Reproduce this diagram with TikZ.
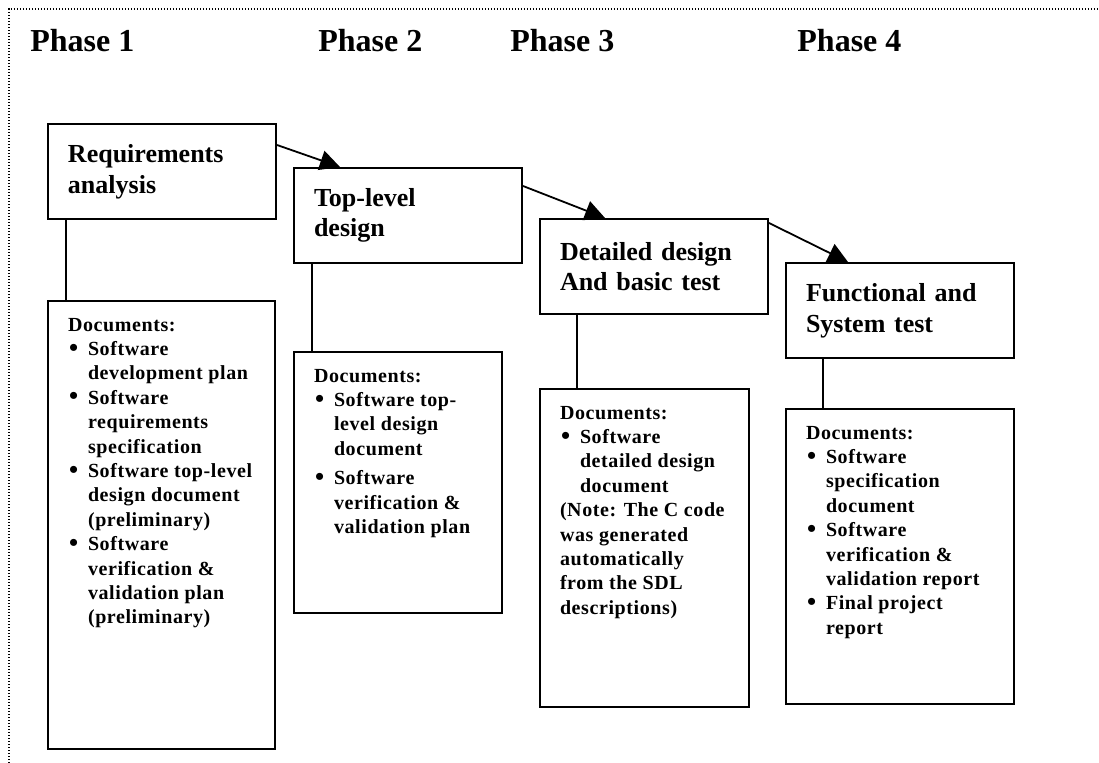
\documentclass[tikz,border=0pt]{standalone}
\usepackage{fontspec}
\setmainfont{Liberation Serif}
\newfontfamily\docfont{Liberation Serif}[LetterSpace=3]
\usetikzlibrary{arrows.meta}
\newcommand\bul[1]{\par\hangindent=10pt\hangafter=1\noindent\makebox[10pt][l]{\hspace{0.5pt}\raisebox{-0.3pt}{\fontsize{13pt}{13pt}\selectfont\textbullet}}#1}
\newcommand\doclist[3]{\begin{minipage}[t][#2][t]{#1}\docfont\bfseries\fontsize{10pt}{12.2pt}\selectfont
  \parindent=0pt\leftskip=10pt\rightskip=0pt plus 1fil\vspace*{8.5pt}Documents:#3\end{minipage}}

\begin{document}
\begin{tikzpicture}[x=0.5pt,y=-0.5pt,
    phase/.style={anchor=base west,inner sep=0pt,font=\bfseries\fontsize{16pt}{19pt}\selectfont},
    stage/.style={draw,line width=1pt,anchor=north west,minimum width=114pt,minimum height=47.5pt,
      inner xsep=10pt,text width=94pt,align=left,font=\bfseries\fontsize{13pt}{15.3pt}\selectfont},
    docs/.style={draw,line width=1pt,anchor=north west,inner sep=0pt},
    link/.style={line width=0.8pt},
    flow/.style={line width=0.9pt,-{Triangle[length=10pt,width=10pt]}},
    frame/.style={line width=0.6pt,dash pattern=on 0.6pt off 0.9pt}]
  \useasboundingbox (0,0) rectangle (1099,763);
  \draw[frame] (9,763) -- (9,9) -- (1099,9);

  \node[phase] (p1) at (30,52) {Phase 1};
  \node[phase] (p2) at (318,52) {Phase 2};
  \node[phase] (p3) at (510,52) {Phase 3};
  \node[phase] (p4) at (797,52) {Phase 4};

  \node[stage] (req) at (47,123) {Requirements\\analysis};
  \node[stage] (top) at (293,167) {Top-level\\design};
  \node[stage] (det) at (539,218) {Detailed design\\And basic test};
  \node[stage] (fun) at (785,262) {Functional and\\System test};

  \node[docs] (reqdoc) at (47,300) {\doclist{113.5pt}{224pt}{%
    \bul{Software\\development plan}
    \bul{Software\\requirements\\specification}
    \bul{Software top-level\\design document\\(preliminary)}
    \bul{Software\\verification \&\\validation plan\\(preliminary)}}};
  \node[docs] (topdoc) at (293,351) {\doclist{104pt}{130.5pt}{%
    \bul{Software top-\\level design\\document}\vspace{2.5pt}
    \bul{Software\\verification \&\\validation plan}}};
  \node[docs] (detdoc) at (539,388) {\doclist{104.5pt}{159pt}{%
    \bul{Software\\detailed design\\document}
    \par(Note: The C code\\was generated\\automatically\\from the SDL\\descriptions)}};
  \node[docs] (fundoc) at (785,408) {\doclist{114pt}{147.5pt}{%
    \bul{Software\\specification\\document}
    \bul{Software\\verification \&\\validation report}
    \bul{Final project\\report}}};

  \draw[link] ([xshift=9.5pt]req.south west) -- ([xshift=9.5pt]reqdoc.north west);
  \draw[link] ([xshift=9.5pt]top.south west) -- ([xshift=9.5pt]topdoc.north west);
  \draw[link] ([xshift=19pt]det.south west) -- ([xshift=19pt]detdoc.north west);
  \draw[link] ([xshift=19pt]fun.south west) -- ([xshift=19pt]fundoc.north west);

  \path[flow]
    ([yshift=-11pt]req.north east) edge ([xshift=23.5pt]top.north west)
    ([yshift=-9.5pt]top.north east) edge ([xshift=33pt]det.north west)
    ([yshift=-2.5pt]det.north east) edge ([xshift=31.5pt]fun.north west);
\end{tikzpicture}
\end{document}
